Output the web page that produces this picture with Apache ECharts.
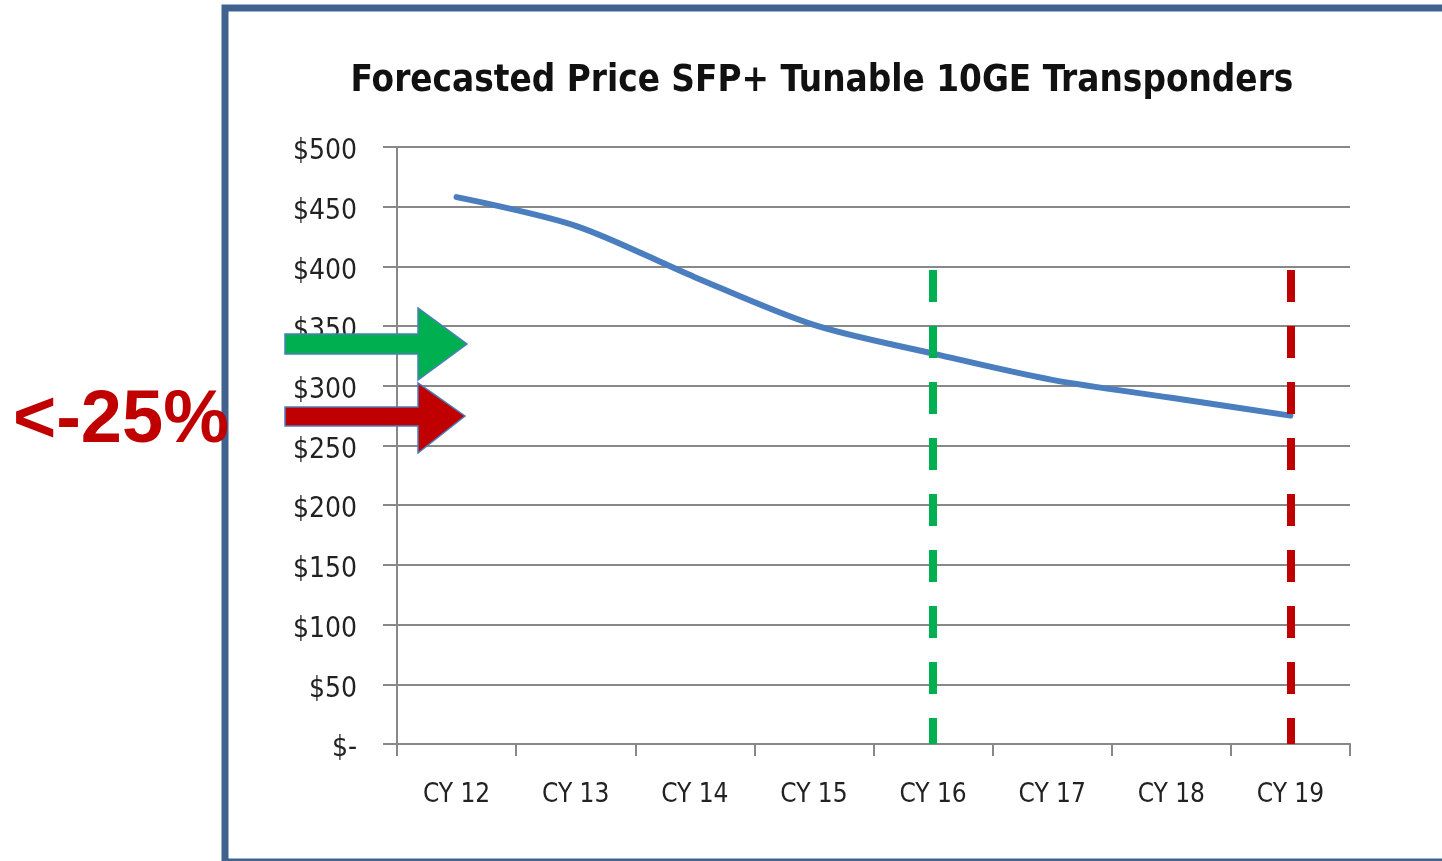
<!DOCTYPE html>
<html>
<head>
<meta charset="utf-8">
<title>Forecasted Price SFP+ Tunable 10GE Transponders</title>
<script src="https://cdn.jsdelivr.net/npm/echarts@6/dist/echarts.min.js"></script>
<style>
  html, body { margin: 0; padding: 0; background: #fff; }
  #container { width: 1442px; height: 861px; }
</style>
</head>
<body>
<div id="container"></div>
<script>
// categories and forecast prices
var years = ['CY 12', 'CY 13', 'CY 14', 'CY 15', 'CY 16', 'CY 17', 'CY 18', 'CY 19'];
var prices = [458, 434, 391, 351, 327, 305, 290, 275];
var yTicks = [0, 50, 100, 150, 200, 250, 300, 350, 400, 450, 500];
// dashed marker lines: category, top value, bottom value
var greenMark = ['CY 16', 397, 0];
var redMark = ['CY 19', 397, 0];

var dom = document.getElementById('container');
var myChart = echarts.init(dom);
var labelFont = "'DejaVu Sans Condensed', 'Liberation Sans Narrow', sans-serif";

function arrow(color, shaftTop, shaftBottom, headTop, headBottom, tipX, tipY) {
	return {
		type: 'polygon',
		z: 100,
		shape: {
			points: [[285, shaftTop], [418, shaftTop], [418, headTop], [tipX, tipY],
				[418, headBottom], [418, shaftBottom], [285, shaftBottom]]
		},
		style: { fill: color, stroke: '#4a7ebb', lineWidth: 1.5 }
	};
}

var option = {
	animation: false,
	backgroundColor: '#ffffff',
	title: {
		text: 'Forecasted Price SFP+ Tunable 10GE Transponders',
		left: 817,
		top: 58,
		textAlign: 'center',
		textStyle: {
			fontFamily: labelFont,
			fontWeight: 'bold',
			fontSize: 36.5,
			color: '#111'
		}
	},
	grid: {
		left: 397,
		right: 92,
		top: 147,
		bottom: 117,
		containLabel: false
	},
	xAxis: {
		type: 'category',
		data: years,
		boundaryGap: true,
		axisLine: { lineStyle: { color: '#888', width: 2 } },
		axisTick: { show: true, length: 12, lineStyle: { color: '#888', width: 2 } },
		axisLabel: {
			margin: 38,
			fontFamily: labelFont,
			fontSize: 26,
			color: '#222'
		},
		splitLine: { show: false }
	},
	yAxis: {
		type: 'value',
		min: yTicks[0],
		max: yTicks[yTicks.length - 1],
		interval: 50,
		axisLine: { show: true, lineStyle: { color: '#888', width: 2 } },
		axisTick: { show: true, length: 14, lineStyle: { color: '#888', width: 2 } },
		axisLabel: {
			margin: 40,
			fontFamily: labelFont,
			fontSize: 28,
			color: '#222',
			verticalAlign: 'top',
			lineHeight: 10,
			formatter: function(v) {
				return v === 0 ? '$-' : '$' + v;
			}
		},
		splitLine: { show: true, lineStyle: { color: '#888', width: 2 } }
	},
	series: [{
		name: 'Price',
		type: 'line',
		data: prices,
		smooth: 0.3,
		showSymbol: false,
		lineStyle: { color: '#4a7ebf', width: 6, cap: 'round' },
		markLine: {
			silent: true,
			symbol: 'none',
			label: { show: false },
			data: [
				[{ coord: [greenMark[0], greenMark[1]], lineStyle: { color: '#00b050' } },
				 { coord: [greenMark[0], greenMark[2]] }],
				[{ coord: [redMark[0], redMark[1]], lineStyle: { color: '#c00000' } },
				 { coord: [redMark[0], redMark[2]] }]
			],
			lineStyle: { width: 8, type: [32, 24] }
		}
	}],
	graphic: [
		{
			type: 'rect',
			z: 90,
			shape: { x: 225, y: 8, width: 1300, height: 854 },
			style: { fill: 'none', stroke: '#40628f', lineWidth: 7 }
		},
		arrow('#00b050', 334, 354, 308, 380, 467, 344),
		arrow('#c00000', 407, 426, 383, 453, 465, 416),
		{
			type: 'text',
			z: 95,
			x: 13,
			y: 422,
			style: {
				text: '<-25%',
				font: "bold 74px 'Liberation Sans', Arial, sans-serif",
				fill: '#c00000',
				verticalAlign: 'middle',
				align: 'left'
			}
		}
	]
};

if(option && typeof option === 'object') {
	myChart.setOption(option, true);
}
</script>
</body>
</html>
